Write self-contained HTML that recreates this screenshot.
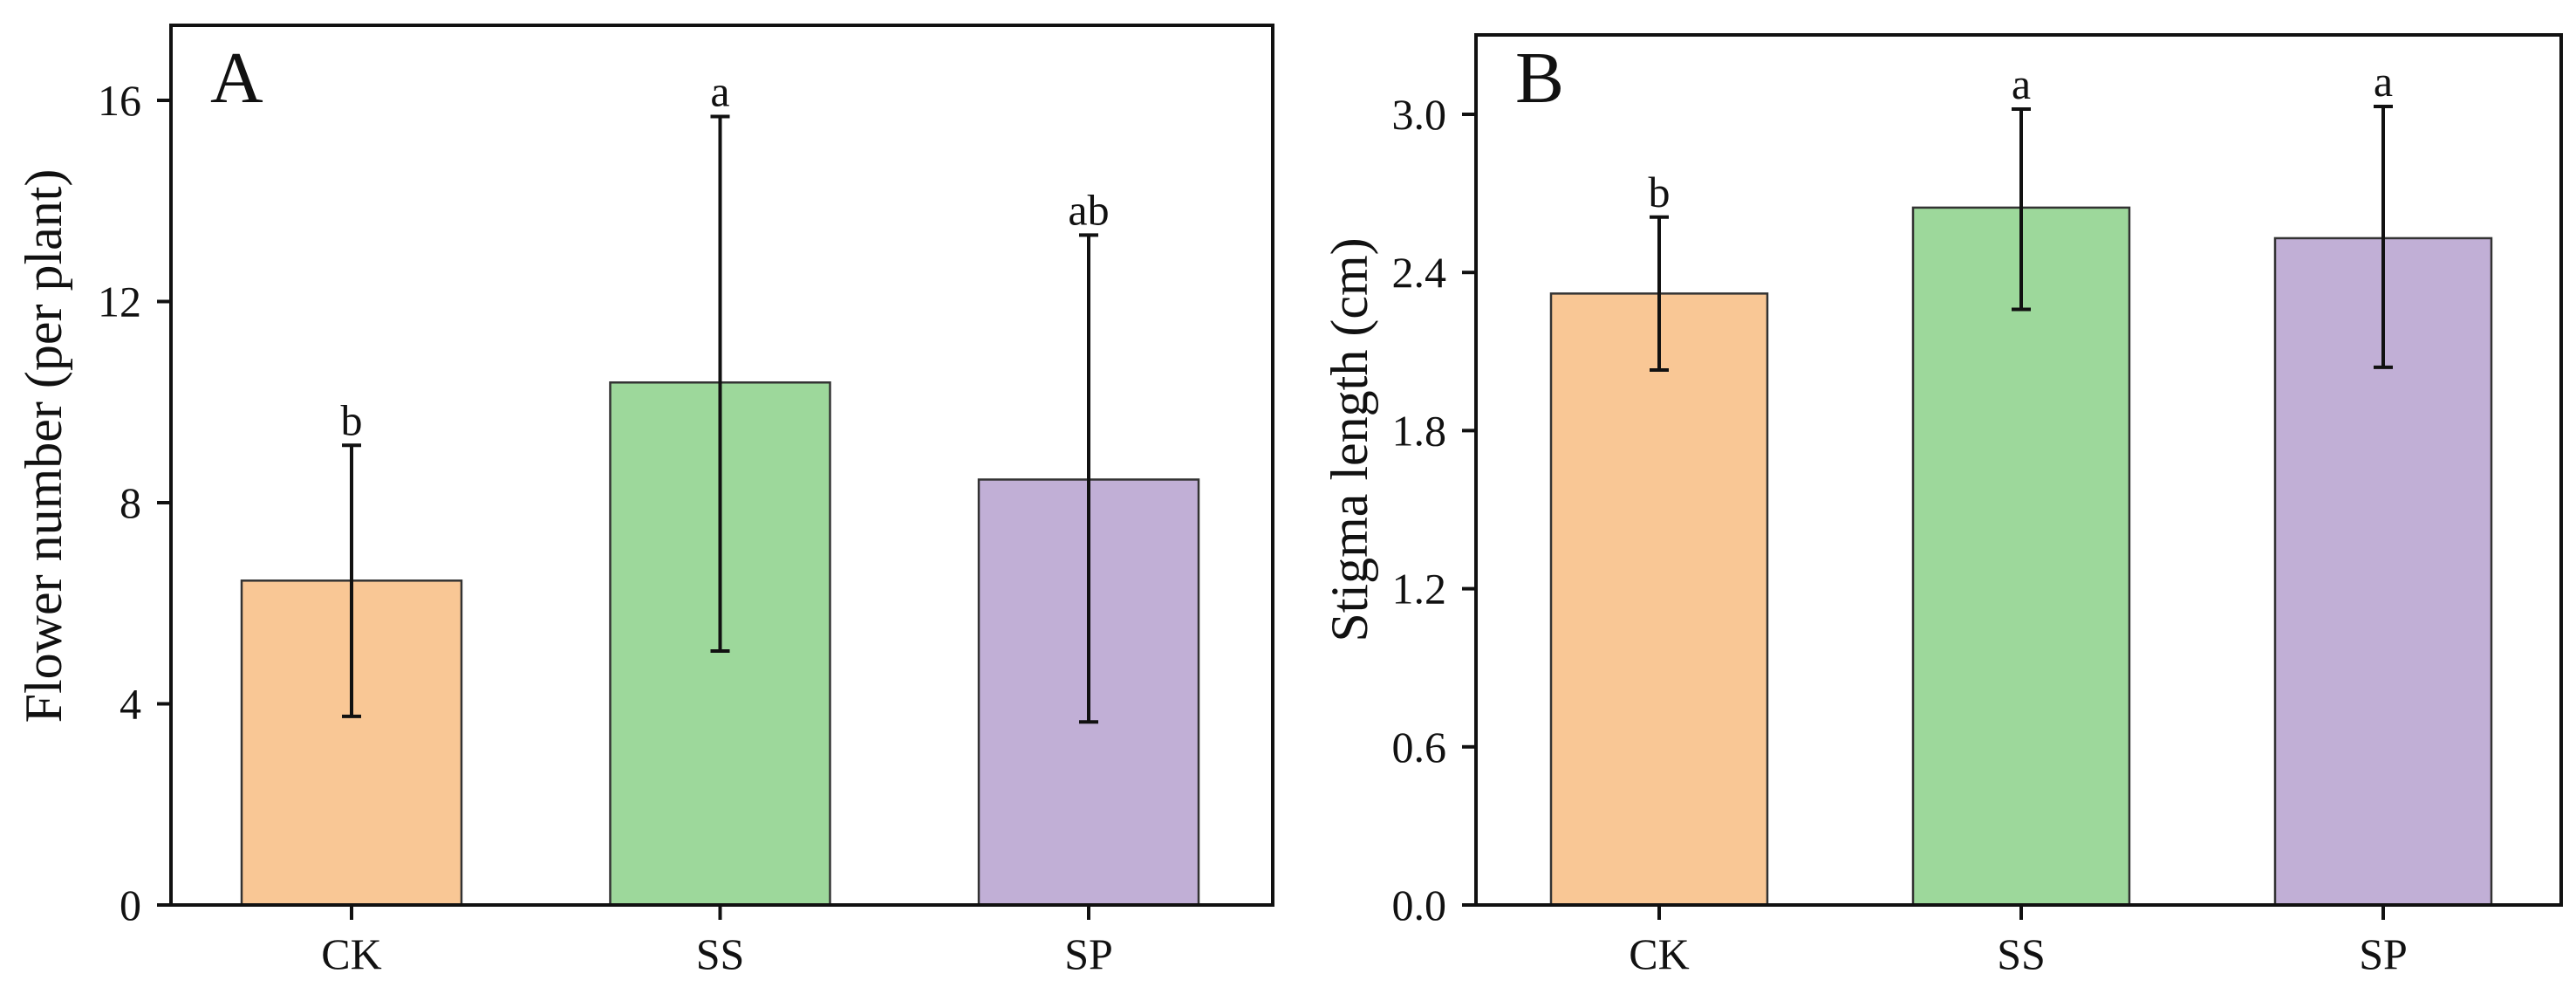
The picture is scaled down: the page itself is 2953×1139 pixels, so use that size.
<!DOCTYPE html>
<html><head><meta charset="utf-8"><style>
html,body{margin:0;padding:0;background:#fff;}
svg{display:block;}
text{font-family:"Liberation Serif",serif;fill:#111;}
</style></head><body>
<svg id="chart" width="2953" height="1139" viewBox="0 0 2953 1139" xmlns="http://www.w3.org/2000/svg"></svg>
<script>
const categories = ["CK","SS","SP"];
const colors = ["#F9C795","#9DD89B","#C1AFD6"];
const flowerMeans = [6.45, 10.39, 8.46];
const flowerUpper = [9.14, 15.68, 13.32];
const flowerLower = [3.75, 5.05, 3.64];
const flowerLetters = ["b","a","ab"];
const flowerTicks = [0,4,8,12,16];
const stigmaMeans = [2.32, 2.646, 2.53];
const stigmaUpper = [2.61, 3.02, 3.03];
const stigmaLower = [2.03, 2.26, 2.04];
const stigmaLetters = ["b","a","a"];
const stigmaTicks = [0.0,0.6,1.2,1.8,2.4,3.0];

const NS = "http://www.w3.org/2000/svg";
const svg = document.getElementById("chart");
function mk(tag, attrs, parent){
  const e = document.createElementNS(NS, tag);
  for (const k in attrs) e.setAttribute(k, attrs[k]);
  (parent||svg).appendChild(e);
  return e;
}

function panel(cfg){
  const g = mk("g", {});
  
  
  const yScale = v => cfg.y0 - (v - cfg.vmin) / (cfg.vmax - cfg.vmin) * (cfg.y0 - cfg.y1);
  const xScale = i => cfg.cx0 + i * cfg.step;
  // bars
  cfg.means.forEach((m, i) => {
    const r = mk("rect", {x: xScale(i) - cfg.bw/2, y: yScale(m), width: cfg.bw, height: yScale(0) - yScale(m), fill: colors[i], stroke: "#333", "stroke-width": 2.5}, g);
    
    
  });
  // error bars
  cfg.means.forEach((m, i) => {
    const x = xScale(i), yt = yScale(cfg.upper[i]), yb = yScale(cfg.lower[i]);
    const eg = mk("g", {stroke: "#111", "stroke-width": 4}, g);
    
    
    mk("line", {x1: x, x2: x, y1: yt, y2: yb}, eg);
    mk("line", {x1: x - 11, x2: x + 11, y1: yt, y2: yt}, eg);
    mk("line", {x1: x - 11, x2: x + 11, y1: yb, y2: yb}, eg);
    const t = mk("text", {x: x, y: yt - 12, "text-anchor": "middle", "font-size": 50}, g);
    t.textContent = cfg.letters[i];
    
    
  });
  // frame
  const f = mk("rect", {x: cfg.left, y: cfg.top, width: cfg.right - cfg.left, height: cfg.y0 - cfg.top, fill: "none", stroke: "#111", "stroke-width": 4}, g);
  
  
  // y ticks
  cfg.ticks.forEach(v => {
    const y = yScale(v);
    mk("line", {x1: cfg.left - 16, x2: cfg.left, y1: y, y2: y, stroke: "#111", "stroke-width": 4}, g);
    const t = mk("text", {x: cfg.left - 34, y: y + 17, "text-anchor": "end", "font-size": 50}, g);
    t.textContent = cfg.fmt(v);
    
    
  });
  // x ticks
  categories.forEach((c, i) => {
    const x = xScale(i);
    mk("line", {x1: x, x2: x, y1: cfg.y0, y2: cfg.y0 + 17, stroke: "#111", "stroke-width": 4}, g);
    const t = mk("text", {x: x, y: cfg.y0 + 73, "text-anchor": "middle", "font-size": 50}, g);
    t.textContent = c;
    
    
  });
  // axis title
  const at = mk("text", {x: 0, y: 0, "text-anchor": "middle", "font-size": 60, transform: "translate(" + cfg.titleX + "," + cfg.titleY + ") rotate(-90)"}, g);
  at.textContent = cfg.title;
  
  
  // panel letter
  const pl = mk("text", {x: cfg.left + 45, y: 117, "font-size": 84}, g);
  pl.textContent = cfg.label;
  
  
}

panel({name: "panel-a-flower-number", left: 196, right: 1459, top: 29, y0: 1037, y1: 115, vmin: 0, vmax: 16,
  cx0: 403, step: 422.5, bw: 252, means: flowerMeans, upper: flowerUpper, lower: flowerLower, letters: flowerLetters,
  ticks: flowerTicks, fmt: v => String(v), title: "Flower number (per plant)", titleX: 70, titleY: 511, label: "A"});
panel({name: "panel-b-stigma-length", left: 1692, right: 2936, top: 40, y0: 1037, y1: 131, vmin: 0, vmax: 3.0,
  cx0: 1902, step: 415, bw: 248, means: stigmaMeans, upper: stigmaUpper, lower: stigmaLower, letters: stigmaLetters,
  ticks: stigmaTicks, fmt: v => v.toFixed(1), title: "Stigma length (cm)", titleX: 1567, titleY: 504, label: "B"});
</script>
</body></html>
